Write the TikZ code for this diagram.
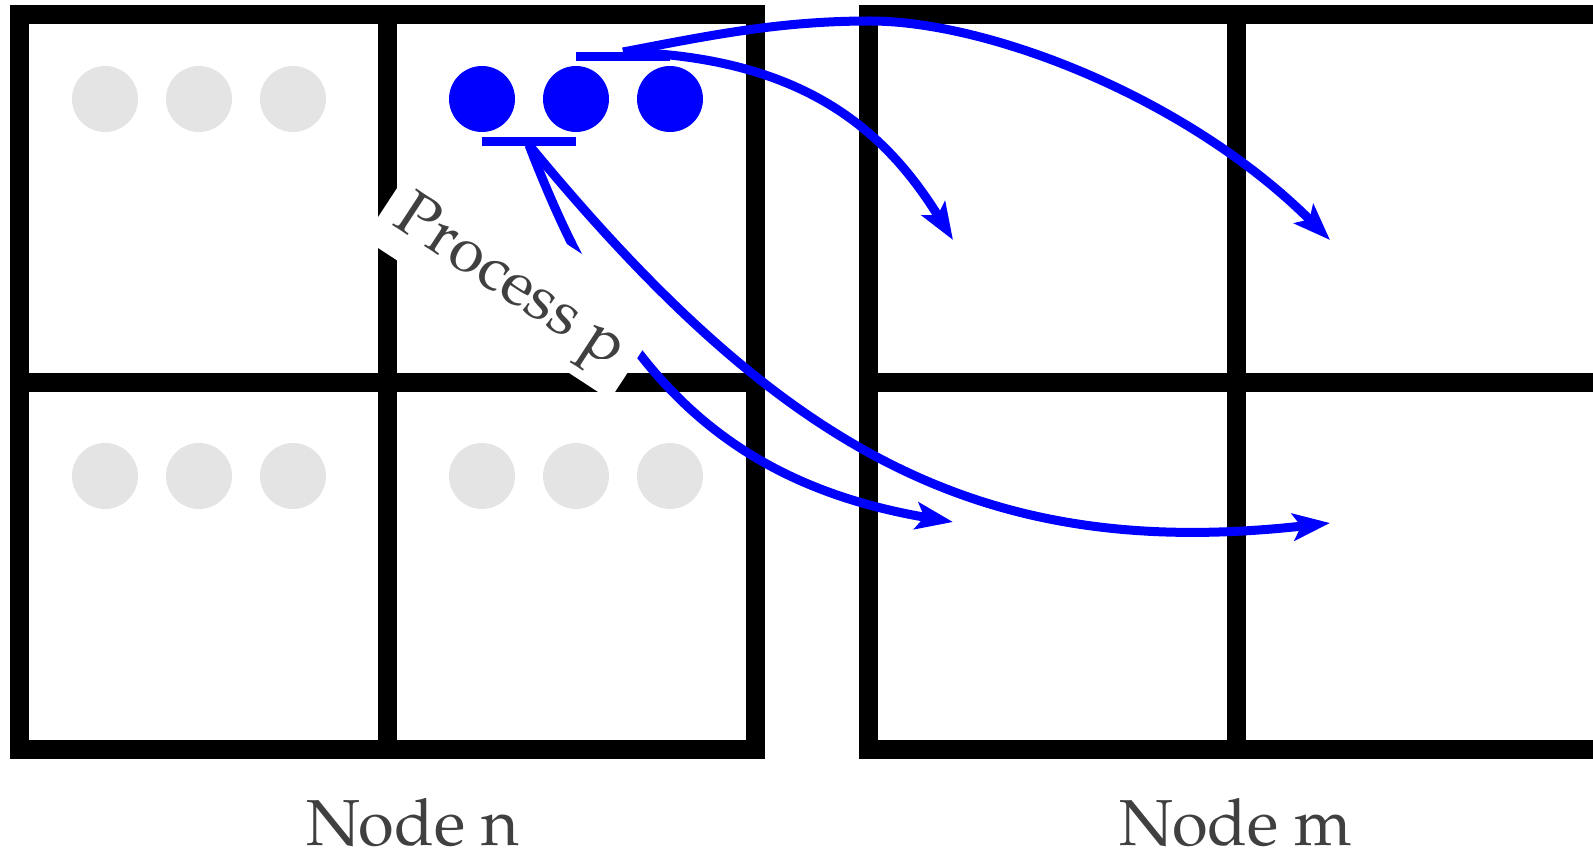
\documentclass[tikz,border=0pt]{standalone}
\usepackage{fontspec}
\setmainfont{TeX Gyre Pagella}
\usetikzlibrary{arrows.meta}
\definecolor{cgray}{RGB}{228,228,228}
\definecolor{ctext}{RGB}{64,64,64}
\definecolor{cblue}{RGB}{0,0,255}
\begin{document}
\begin{tikzpicture}[x=1pt,y=-1pt,
  grid/.style={line width=19pt, draw=black},
  dot/.style={circle, inner sep=0pt, minimum size=66pt},
  bar/.style={line width=9pt, draw=cblue},
  flow/.style={line width=9pt, draw=cblue, -{Stealth[length=37pt,width=27pt,inset=8pt]}},
  lbl/.style={text=ctext, font=\fontsize{65}{72}\selectfont, anchor=base},
]
\useasboundingbox (0,0) rectangle (1593,850);
\clip (0,0) rectangle (1593,850);
% left grid (Node n)
\draw[grid] (19.5,14.5) rectangle (755.5,749.5);
\draw[grid] (387.5,14.5) -- (387.5,749.5);
\draw[grid] (19.5,382.5) -- (755.5,382.5);
% right grid (Node m)
\draw[grid] (868.5,14.5) rectangle (1604.5,749.5);
\draw[grid] (1236.5,14.5) -- (1236.5,749.5);
\draw[grid] (868.5,382.5) -- (1604.5,382.5);
% gray dots
\foreach \x/\n in {105/a,199/b,293/c}{
  \node[dot, fill=cgray] (tl\n) at (\x,99) {};
  \node[dot, fill=cgray] (bl\n) at (\x,476) {};
}
\foreach \x/\n in {482/a,576/b,670/c}{
  \node[dot, fill=cgray] (br\n) at (\x,476) {};
  \node[dot, fill=cblue] (p\n) at (\x,99) {};
}
% bars
\coordinate (tb1) at (576,56.3);
\coordinate (tb2) at (670,56.3);
\coordinate (bb1) at (482,141.3);
\coordinate (bb2) at (576,141.3);
\draw[bar] (tb1) -- (tb2);
\draw[bar] (bb1) -- (bb2);
\coordinate (ts) at (623,52);
\coordinate (bs) at (529,145);
% targets
\coordinate (t1) at (953,240);
\coordinate (t2) at (1330,240);
\coordinate (t3) at (953,522);
\coordinate (t4) at (1330,523);
% arrows
\draw[flow] (ts) .. controls (803,57) and (885,130) .. (t1);
\draw[flow] (ts) .. controls (712,35) and (780,21) .. (870,21)
  .. controls (990,21) and (1188.6,98.6) .. (t2);
\draw[flow] (bs) .. controls (608,350) and (706,480) .. (t3);
\draw[flow] (bs) .. controls (783,453) and (982,561.5) .. (t4);
% label
\node[fill=white, text=ctext, font=\fontsize{63}{70}\selectfont, anchor=base,
  rotate=-33.2, inner sep=0pt, text height=79.5pt, text depth=27pt,
  minimum width=294pt] (proc) at (501.7,296.6) {Process p};
% node labels
\node[lbl] (nn) at (413,845) {Node n};
\node[lbl] (nm) at (1236,845) {Node m};
\end{tikzpicture}
\end{document}
